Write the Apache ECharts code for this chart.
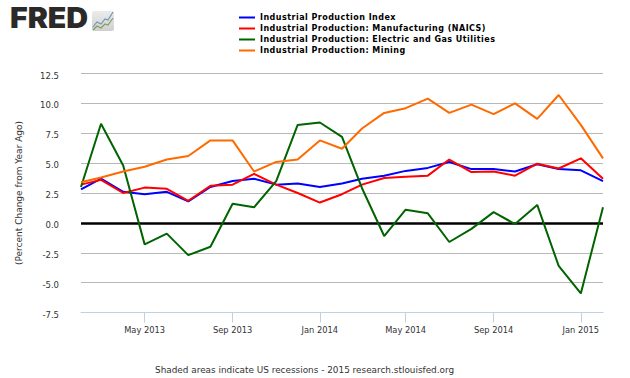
<!DOCTYPE html>
<html><head><meta charset="utf-8">
<style>
html,body{margin:0;padding:0;background:#fff}
#c{width:630px;height:378px}
#c svg text[style*="bold"]{letter-spacing:.47px}
</style>
<script src="https://cdn.jsdelivr.net/npm/echarts@6/dist/echarts.min.js"></script>
</head><body><div id="c"></div>
<script>
const dates=['2013-02-01','2013-03-01','2013-04-01','2013-05-01','2013-06-01','2013-07-01','2013-08-01','2013-09-01','2013-10-01','2013-11-01','2013-12-01','2014-01-01','2014-02-01','2014-03-01','2014-04-01','2014-05-01','2014-06-01','2014-07-01','2014-08-01','2014-09-01','2014-10-01','2014-11-01','2014-12-01','2015-01-01','2015-02-01'];
const tickDates=['2013-05-01','2013-09-01','2014-01-01','2014-05-01','2014-09-01','2015-01-01'];
const indexVals=[2.8,3.7,2.6,2.4,2.6,1.8,3.0,3.5,3.7,3.2,3.3,3.0,3.3,3.7,3.95,4.35,4.6,5.1,4.5,4.5,4.3,4.9,4.5,4.4,3.5];
const manufVals=[3.2,3.6,2.5,2.95,2.85,1.85,3.1,3.2,4.1,3.2,2.5,1.7,2.4,3.2,3.75,3.85,3.95,5.3,4.25,4.3,3.95,4.95,4.55,5.4,3.7];
const utilVals=[3.0,8.3,4.8,-1.8,-0.9,-2.7,-2.0,1.6,1.3,3.5,8.2,8.4,7.2,2.9,-1.1,1.1,0.8,-1.6,-0.5,0.9,-0.1,1.5,-3.6,-5.9,1.3];
const miningVals=[3.4,3.8,4.3,4.7,5.3,5.6,6.9,6.9,4.3,5.1,5.3,6.9,6.2,7.9,9.2,9.6,10.4,9.2,9.9,9.1,10.0,8.7,10.7,8.2,5.4];
const names=['Industrial Production Index','Industrial Production: Manufacturing (NAICS)','Industrial Production: Electric and Gas Utilities','Industrial Production: Mining'];
const colors=['#0000ff','#ff0000','#006400','#ff6a00'];
const footer='Shaded areas indicate US recessions - 2015 research.stlouisfed.org';
const yTitle='(Percent Change from Year Ago)';
const FONT='"DejaVu Sans"';
const ts=s=>new Date(s+'T00:00:00').getTime();
const mk=(v,i)=>({name:names[i],type:'line',data:v.map((y,k)=>[ts(dates[k]),y]),symbol:'none',smooth:false,z:3+i,
  lineStyle:{color:colors[i],width:2},itemStyle:{color:colors[i]}});
const series=[indexVals,manufVals,utilVals,miningVals].map(mk);
series.unshift({name:'zero',type:'line',data:[],z:10,markLine:{silent:true,symbol:'none',label:{show:false},animation:false,
  lineStyle:{color:'#000',width:2.5,type:'solid'},data:[{yAxis:0}]}});
const chart=echarts.init(document.getElementById('c'),null,{renderer:'svg'});
chart.setOption({animation:false,backgroundColor:'#fff',
 grid:{left:81,right:27,top:73.5,bottom:65.5,containLabel:false},
 legend:{orient:'vertical',left:239,top:12,itemWidth:16,itemHeight:2,itemGap:0,padding:0,data:names,selectedMode:false,icon:'rect',
  textStyle:{fontFamily:FONT,fontWeight:'bold',fontSize:8,color:'#000',lineHeight:11,height:11,padding:[0,0,0,0]}},
 xAxis:{type:'value',min:ts(dates[0]),max:ts(dates[dates.length-1]),
  axisLine:{onZero:false,lineStyle:{color:'#c0d0e0',width:1}},
  axisTick:{show:true,length:10,lineStyle:{color:'#c0d0e0'},customValues:tickDates.map(ts)},
  axisLabel:{customValues:tickDates.map(ts),margin:13,fontFamily:FONT,fontSize:8.3,color:'#333',hideOverlap:false,
    formatter:v=>{const d=new Date(v);return ['Jan','Feb','Mar','Apr','May','Jun','Jul','Aug','Sep','Oct','Nov','Dec'][d.getMonth()]+' '+d.getFullYear();}},
  splitLine:{show:false}},
 yAxis:{type:'value',min:-7.5,max:12.5,interval:2.5,
  name:yTitle,nameLocation:'middle',nameGap:58,nameTextStyle:{fontFamily:FONT,fontSize:9,color:'#333'},
  axisLine:{show:false},axisTick:{show:false},
  axisLabel:{margin:22,fontFamily:FONT,fontSize:8.5,color:'#333',verticalAlign:'top',lineHeight:4,formatter:v=>v.toFixed(1)},
  splitLine:{lineStyle:{color:'#b8b8b8',width:1}}},
 graphic:[
  {type:'text',x:10,y:4,scaleX:1.08,style:{text:'FRED',fontFamily:'Inter',fontWeight:900,fontSize:28,fill:'#2b2a29'}},
  {type:'rect',shape:{x:92,y:11,width:22,height:20,r:2},style:{fill:{type:'linear',x:0,y:0,x2:0,y2:1,colorStops:[{offset:0,color:'#ececec'},{offset:1,color:'#cfcfcf'}]}}},
  {type:'polyline',shape:{points:[[93,27],[97,22],[101,24],[105,19],[108,20],[113,12]]},style:{stroke:'#6f97b5',fill:null,lineWidth:1.2}},
  {type:'polyline',shape:{points:[[93,30],[97,26],[101,28],[105,24],[108,25],[113,18]]},style:{stroke:'#7d9f5a',fill:null,lineWidth:1.2}},
  {type:'text',left:155,top:365,style:{text:footer,fontFamily:FONT,fontSize:8.9,fill:'#333'}}
 ],
 series});
</script></body></html>
